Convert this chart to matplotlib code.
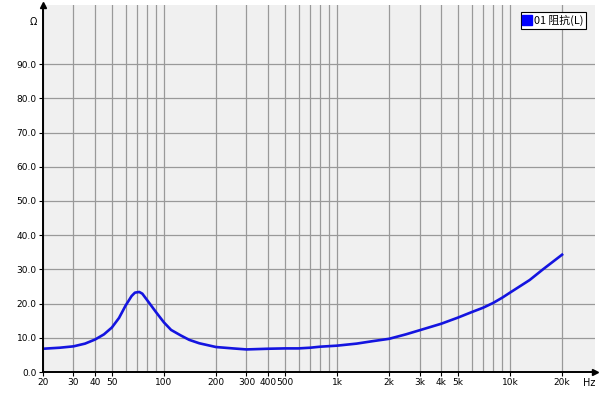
import matplotlib
matplotlib.use("Agg")
import matplotlib.pyplot as plt
import numpy as np

plt.rcParams['font.family'] = ['DejaVu Sans', 'Noto Sans CJK SC']

# impedance curve
freq = [20, 25, 30, 35, 40, 45, 50, 55, 60, 65, 68, 72, 75, 80, 85, 90, 100,
        110, 125, 140, 160, 200, 250, 300, 400, 500, 600, 700, 800, 1000,
        1300, 1600, 2000, 2500, 3000, 4000, 5000, 6000, 7000, 8000, 9000,
        10000, 13000, 15500, 20000]
ohm = [6.8, 7.1, 7.5, 8.3, 9.5, 11.0, 13.0, 15.8, 19.4, 22.2, 23.2, 23.4,
       22.9, 21.0, 19.2, 17.5, 14.5, 12.3, 10.7, 9.4, 8.4, 7.3, 6.9, 6.6,
       6.8, 6.9, 6.9, 7.1, 7.4, 7.7, 8.3, 9.0, 9.7, 11.0, 12.2, 14.1, 15.9,
       17.5, 18.8, 20.2, 21.7, 23.2, 26.9, 30.0, 34.3]

xlabels = {20: "20", 30: "30", 40: "40", 50: "50", 100: "100", 200: "200",
           300: "300", 400: "400", 500: "500", 1000: "1k", 2000: "2k",
           3000: "3k", 4000: "4k", 5000: "5k", 10000: "10k", 20000: "20k"}
xgrid_minor = [60, 70, 80, 90, 600, 700, 800, 900, 6000, 7000, 8000, 9000]
yticks = [0, 10, 20, 30, 40, 50, 60, 70, 80, 90]

fig = plt.figure(figsize=(6, 4), dpi=100)
fig.patch.set_facecolor("white")
ax = fig.add_axes([43/600, 1-372/400, (595-43)/600, (372-5)/400])
ax.set_facecolor("#f0f0f0")

ax.plot(freq, ohm, color="#1414e0", lw=1.9, zorder=3)

ax.set_xscale("log")
ax.set_xlim(20, 31000)
ax.set_ylim(0, 107.3)

ax.set_xticks(list(xlabels.keys()))
ax.set_xticklabels(list(xlabels.values()))
ax.set_xticks(xgrid_minor, minor=True)
ax.xaxis.set_minor_formatter(matplotlib.ticker.NullFormatter())
ax.set_yticks(yticks)
ax.set_yticklabels(["%.1f" % v for v in yticks])

ax.grid(True, which="both", axis="x", color="#999999", lw=0.9)
ax.grid(True, which="major", axis="y", color="#999999", lw=0.9)
ax.tick_params(axis="both", which="major", labelsize=6.5, length=3,
               width=0.8, pad=1.5, colors="black")
ax.tick_params(axis="x", which="minor", length=0)

for s in ["top", "right"]:
    ax.spines[s].set_visible(False)
for s in ["left", "bottom"]:
    ax.spines[s].set_linewidth(1.4)
    ax.spines[s].set_zorder(4)

# axis arrows
ax.plot(1, 0, ">k", transform=ax.transAxes, clip_on=False, ms=5)
ax.plot(0, 1, "^k", transform=ax.transAxes, clip_on=False, ms=5)

fig.text(33/600, 1-22/400, "Ω", fontsize=7, ha="center", va="center")
fig.text(589/600, 1-383/400, "Hz", fontsize=7, ha="center", va="center")

# legend
leg_h, = ax.plot([], [], "s", color="#0000ff", ms=7)
lg = ax.legend([leg_h], ["01 阻抗(L)"], loc="upper right",
               bbox_to_anchor=(586/600, 1-12/400), bbox_transform=fig.transFigure,
               prop={"family": ["Noto Sans CJK SC", "DejaVu Sans"], "size": 7.8},
               frameon=True, fancybox=False, borderpad=0.25,
               handlelength=0.6, handletextpad=0.3, borderaxespad=0)
lg.get_frame().set_edgecolor("black")
lg.get_frame().set_linewidth(0.8)
lg.get_frame().set_facecolor("white")
lg.get_frame().set_alpha(1)

fig.savefig("out.png", dpi=100)
